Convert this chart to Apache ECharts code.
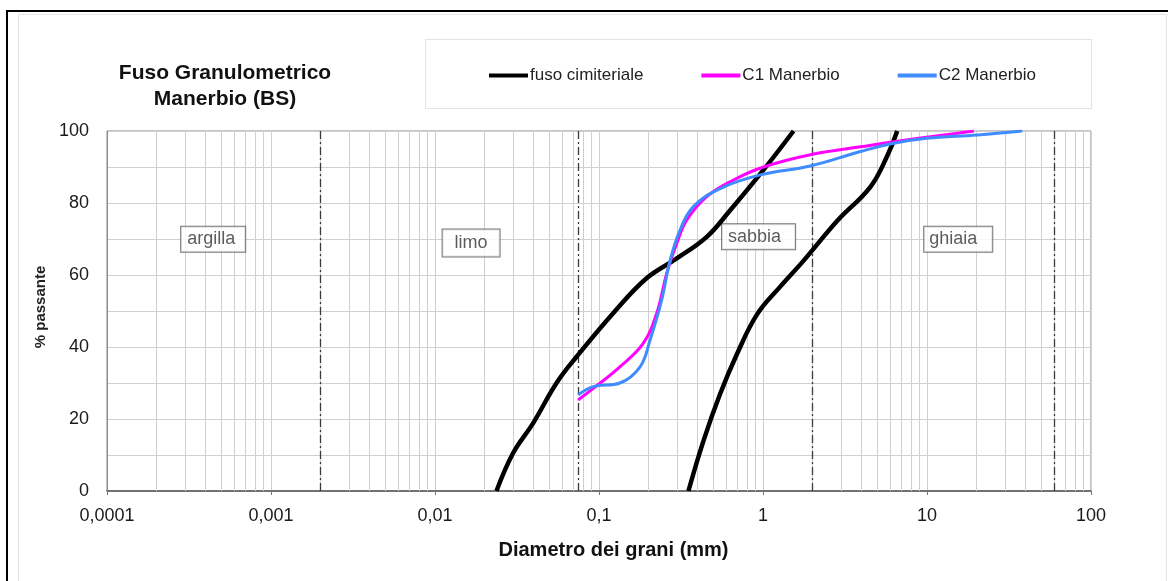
<!DOCTYPE html>
<html>
<head>
<meta charset="utf-8">
<title>Fuso Granulometrico Manerbio (BS)</title>
<script src="https://cdn.jsdelivr.net/npm/echarts@6/dist/echarts.min.js"></script>
<style>
  html, body { margin: 0; padding: 0; background: #fff; }
  #chart { width: 1168px; height: 581px; }
</style>
</head>
<body>
<div id="chart"></div>
<script>
// Grading envelope (two limit curves) and two sample gradings.
// Diameters in mm, values in % passing.
const fusoFineD   = [0.0237, 0.0299, 0.0396, 0.0551, 0.073, 0.122, 0.195, 0.298, 0.454, 0.631, 1.007, 1.535];
const fusoFineP   = [0, 10.5, 18.8, 30, 37.3, 49.4, 59.1, 64.6, 70.6, 78, 89.2, 100];

const fusoCoarseD = [0.351, 0.434, 0.548, 0.693, 0.918, 1.27, 1.77, 2.83, 4.52, 5.71, 6.58];
const fusoCoarseP = [0, 14, 27, 38, 49, 56.7, 64, 75, 84.5, 93, 100];

const c1D = [0.0746, 0.0923, 0.134, 0.186, 0.225, 0.259, 0.298, 0.343, 0.454, 0.661, 1.007, 2.04, 3.93, 6.27, 12.7, 19.3];
const c1P = [25.3, 28.5, 34.5, 41, 49.4, 60.5, 68.8, 75.3, 81.8, 86.4, 90, 93.6, 95.6, 97, 98.9, 100];

const c2D = [0.0746, 0.0923, 0.134, 0.178, 0.205, 0.241, 0.271, 0.312, 0.376, 0.548, 0.962, 1.94, 3.93, 6.27, 10.0, 20.3, 38.1];
const c2P = [26.7, 29, 30, 34.5, 42, 53, 64, 72.5, 79, 84, 87.8, 90.3, 94.3, 96.6, 98, 98.9, 100];

// Soil class boundaries (mm) and class names with their label anchors
const classBounds = [0.002, 0.075, 2, 60];
const classNames  = ['argilla', 'limo', 'sabbia', 'ghiaia'];
const classLabelD = [0.000444, 0.0166, 0.94, 15.5];
const classLabelP = [69.9, 68.9, 70.6, 69.9];
// inner spacing of each class text box
const classPad    = [[4, 10, 3, 6], [5, 12, 4, 12], [4, 14, 3, 6], [4, 15, 3, 5]];

const seriesNames = ['fuso cimiteriale', 'C1 Manerbio', 'C2 Manerbio'];

function pairs(xs, ys) { return xs.map((x, i) => [x, ys[i]]); }

// Minor log grid: 2..9 within each decade from 1e-4 to 1e2
const minorGrid = [];
for (let e = -4; e < 2; e++) {
  for (let m = 2; m <= 9; m++) minorGrid.push({ xAxis: Number((m * Math.pow(10, e)).toPrecision(6)) });
}

const FONT = '"Liberation Sans", Arial, sans-serif';
const chart = echarts.init(document.getElementById('chart'), null, { renderer: 'canvas' });

const lineCommon = {
  type: 'line', smooth: 0.4, symbol: 'none', showSymbol: false, animation: false, z: 6
};

chart.setOption({
  animation: false,
  backgroundColor: '#ffffff',
  textStyle: { fontFamily: FONT },
  grid: { left: 107, right: 77, top: 131, bottom: 90, show: true, borderColor: '#8a8a8a', borderWidth: 1, backgroundColor: 'transparent' },
  legend: {
    data: [
      { name: seriesNames[0], icon: 'rect', itemStyle: { color: '#000' } },
      { name: seriesNames[1], icon: 'rect', itemStyle: { color: '#ff00ff' } },
      { name: seriesNames[2], icon: 'rect', itemStyle: { color: '#3f8cff' } }
    ],
    left: 484, top: 62,
    itemWidth: 39, itemHeight: 4, itemGap: 58,
    textStyle: { fontSize: 17, color: '#222', fontFamily: FONT, padding: [0, 0, 0, -3] }
  },
  xAxis: {
    type: 'log', logBase: 10, min: 0.0001, max: 100,
    name: 'Diametro dei grani (mm)',
    nameLocation: 'middle', nameGap: 49,
    nameTextStyle: { fontSize: 20, fontWeight: 'bold', color: '#111', padding: [0, 0, 0, 29] },
    axisLine: { show: true, lineStyle: { color: '#555', width: 1.5 } },
    axisTick: { show: true, length: 4, lineStyle: { color: '#777' } },
    axisLabel: {
      fontSize: 18, color: '#1a1a1a', margin: 16,
      formatter: v => String(Number(Number(v).toPrecision(6))).replace('.', ',')
    },
    splitLine: { show: true, lineStyle: { color: '#cfcfcf', width: 1 } }
  },
  yAxis: {
    type: 'value', min: 0, max: 100, interval: 20,
    name: '% passante',
    nameLocation: 'middle', nameRotate: 90, nameGap: 58,
    nameTextStyle: { fontSize: 15, fontWeight: 'bold', color: '#222', padding: [0, 0, 0, 8] },
    axisLine: { show: true, lineStyle: { color: '#8a8a8a' } },
    axisTick: { show: false },
    axisLabel: { fontSize: 18, color: '#1a1a1a', margin: 18 },
    splitLine: { show: true, lineStyle: { color: '#cfcfcf', width: 1 } },
    minorTick: { show: false, splitNumber: 2 },
    minorSplitLine: { show: true, lineStyle: { color: '#cfcfcf', width: 1 } }
  },
  graphic: [
    // outer frame
    { type: 'rect', shape: { x: 7, y: 11, width: 1300, height: 800 }, style: { fill: 'none', stroke: '#000', lineWidth: 2 }, silent: true, z: 0 },
    // chart area frame
    { type: 'rect', shape: { x: 18.5, y: 14.5, width: 1148, height: 700 }, style: { fill: 'none', stroke: '#c8c8c8', lineWidth: 1, lineDash: [1, 1] }, silent: true, z: 0 },
    // legend frame
    { type: 'rect', shape: { x: 425.5, y: 39.5, width: 666, height: 69 }, style: { fill: 'none', stroke: '#c8c8c8', lineWidth: 1, lineDash: [1, 1] }, silent: true, z: 0 },
    // title
    { type: 'text', x: 225, y: 86, silent: true,
      style: { text: 'Fuso Granulometrico\nManerbio (BS)', font: 'bold 21px ' + FONT, fill: '#111',
               align: 'center', verticalAlign: 'middle', lineHeight: 26 } }
  ],
  series: [
    // minor log grid and soil class boundaries
    {
      name: 'grid', type: 'line', data: [], silent: true, animation: false, z: 1,
      markLine: {
        z: 1, silent: true, symbol: 'none', animation: false, precision: 10, label: { show: false },
        lineStyle: { color: '#cfcfcf', width: 1, type: 'solid' },
        data: minorGrid
      }
    },
    {
      name: 'bounds', type: 'line', data: [], silent: true, animation: false, z: 2,
      markLine: {
        z: 2, silent: true, symbol: 'none', animation: false, precision: 10, label: { show: false },
        lineStyle: { color: '#3a3a3a', width: 1.3, type: [8, 3, 2, 3] },
        data: classBounds.map(b => ({ xAxis: b }))
      }
    },
    // class name boxes
    {
      name: 'classes', type: 'scatter', symbolSize: 0, silent: true, animation: false, z: 4,
      data: classNames.map((n, i) => ({
        name: n, value: [classLabelD[i], classLabelP[i]], label: { padding: classPad[i] }
      })),
      label: {
        show: true, position: 'inside', formatter: p => p.name,
        fontSize: 18, color: '#333', fontFamily: FONT,
        backgroundColor: '#fff', borderColor: '#555', borderWidth: 1
      }
    },
    Object.assign({}, lineCommon, { name: seriesNames[0], data: pairs(fusoFineD, fusoFineP), lineStyle: { color: '#000', width: 4.5 }, itemStyle: { color: '#000' } }),
    Object.assign({}, lineCommon, { name: seriesNames[0], data: pairs(fusoCoarseD, fusoCoarseP), lineStyle: { color: '#000', width: 4.5 }, itemStyle: { color: '#000' } }),
    Object.assign({}, lineCommon, { name: seriesNames[1], data: pairs(c1D, c1P), lineStyle: { color: '#ff00ff', width: 3 }, itemStyle: { color: '#ff00ff' } }),
    Object.assign({}, lineCommon, { name: seriesNames[2], data: pairs(c2D, c2P), lineStyle: { color: '#3f8cff', width: 3 }, itemStyle: { color: '#3f8cff' } })
  ]
});
</script>
</body>
</html>
